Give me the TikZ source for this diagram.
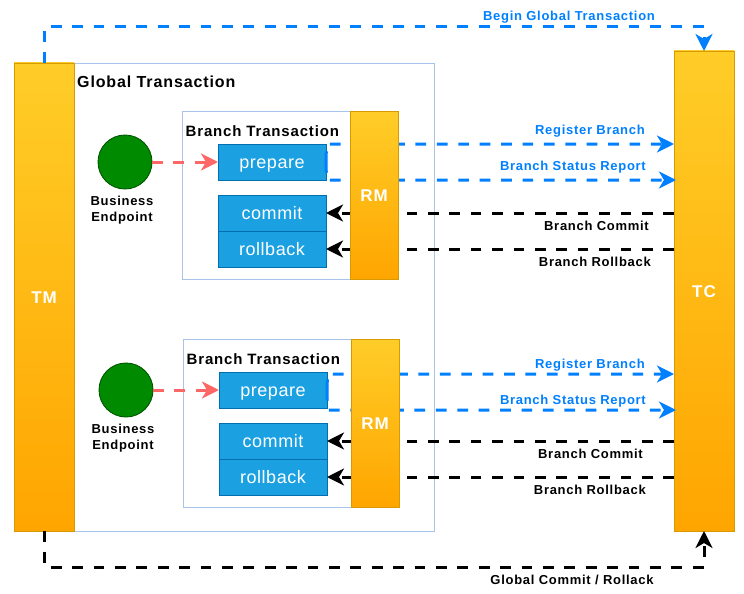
\documentclass[tikz,border=0pt]{standalone}
\usepackage{fontspec}
\setmainfont{Liberation Sans}
\newfontfamily\lsbold{Liberation Sans}[LetterSpace=5.5]
\newfontfamily\lsreg{Liberation Sans}[LetterSpace=3]
\usetikzlibrary{arrows.meta,calc}
\definecolor{ortop}{HTML}{FFCD28}
\definecolor{orbot}{HTML}{FFA500}
\definecolor{orline}{HTML}{D79B00}
\definecolor{frame}{HTML}{A9C4EB}
\definecolor{opfill}{HTML}{1BA1E2}
\definecolor{opline}{HTML}{006EAF}
\definecolor{gfill}{HTML}{008A00}
\definecolor{gline}{HTML}{005700}
\definecolor{blu}{HTML}{007FFF}
\definecolor{redl}{HTML}{FF6666}
\tikzset{
  bar/.style={draw=orline, line width=0.9pt, top color=ortop, bottom color=orbot, inner sep=0pt, outer sep=0pt, text=white, font=\lsbold\bfseries\fontsize{17}{19}\selectfont, text height=12.2pt, text depth=0pt},
  framebox/.style={draw=frame, line width=0.9pt, fill=white, inner sep=0pt, outer sep=0pt},
  opbox/.style={draw=opline, line width=0.9pt, fill=opfill, inner sep=0pt, outer sep=0pt, minimum width=108pt, minimum height=36pt, text=white, font=\lsreg\fontsize{18}{20}\selectfont, text height=12.9pt, text depth=0pt},
  endpt/.style={circle, draw=gline, line width=0.9pt, fill=gfill, minimum size=54pt, inner sep=0pt, outer sep=0pt},
  dline/.style={line width=3pt, dash pattern=on 10.7pt off 10.7pt},
  tip/.style={-{Stealth[length=17pt,width=17pt,inset=5pt]}},
  bluearrow/.style={dline, draw=blu, tip},
  blackarrow/.style={dline, draw=black, tip},
  redarrow/.style={dline, draw=redl, tip},
  lab/.style={font=\lsbold\bfseries\fontsize{13}{15}\selectfont, inner sep=0pt, text height=9.3pt, text depth=0pt},
  bluelab/.style={lab, text=blu},
  eplab/.style={font=\lsbold\bfseries\fontsize{13}{16}\selectfont, inner sep=0pt, align=center},
  title/.style={font=\lsbold\bfseries\fontsize{16}{18}\selectfont, inner sep=0pt, anchor=west, text height=11.5pt, text depth=0pt},
  btitle/.style={font=\lsbold\bfseries\fontsize{15}{17}\selectfont, inner sep=0pt, anchor=west, text height=10.7pt, text depth=0pt},
}
\begin{document}
\begin{tikzpicture}[x=1pt,y=-1pt]
\useasboundingbox (0,0) rectangle (744,594);
% global frame
\node[framebox, minimum width=360pt, minimum height=468pt] (gt) at (254,297) {};
\node[title] (gtl) at (77,81.5) {Global Transaction};
% TM and TC
\node[bar, minimum width=60pt, minimum height=468pt] (tm) at (44,297) {TM};
\node[bar, minimum width=60pt, minimum height=480pt] (tc) at (704,291) {TC};
% top/bottom connectors
\coordinate (tl) at (44,27);
\coordinate (tr) at (704,27);
\coordinate (bl) at (44,567);
\coordinate (br) at (704,567);
\draw[bluearrow] (tm.north) -- (tl) -- (tr) -- (tc.north);
\draw[blackarrow] (tm.south) -- (bl) -- (br) -- (tc.south);
\node[bluelab] (bgt) at (569,16) {Begin Global Transaction};
\node[lab] (gcr) at (572,580) {Global Commit / Rollack};
% branches
\foreach \i/\dx/\dy/\ly/\bo/\cx/\rx in {1/0/0/0/0/649/651, 2/1/228/234/2/643/646}{
  \begin{scope}[shift={(\dx,\dy)}]
    \node[framebox, minimum width=216pt, minimum height=168pt] (bt\i) at (290,195) {};
    \node[btitle] (btl\i) at (185.5,131) {Branch Transaction};
    \node[endpt] (ep\i) at (125,162) {};
    \node[eplab] (epl\i) at (122,210) {Business\\Endpoint};
    \node[opbox] (p\i) at (272,162) {prepare};
    \node[opbox] (c\i) at (272,213) {commit};
    \node[opbox] (r\i) at (272,249) {rollback};
    \draw[redarrow] (ep\i.east) -- (p\i.west);
    \draw[bluearrow] (p\i.east) -- ($(p\i.north east)+(0.5,\bo)$) -- ($(p\i.north east -| tc.west)+(0,\bo)$);
    \draw[bluearrow] (p\i.east) -- ($(p\i.south east)+(0.5,\bo)$) -- ($(p\i.south east -| tc.west)+(2,\bo)$);
    \draw[blackarrow] (tc.west |- c\i.east) -- (c\i.east);
    \draw[blackarrow] (tc.west |- r\i.east) -- (r\i.east);
    \node[bar, minimum width=48pt, minimum height=168pt] (rm\i) at (374,195) {RM};
  \end{scope}
  \node[bluelab, anchor=east] (reg\i) at (645,130+\ly) {Register Branch};
  \node[bluelab, anchor=east] (bsr\i) at (646,166+\ly) {Branch Status Report};
  \node[lab, anchor=east] (bc\i) at (\cx,226+\dy) {Branch Commit};
  \node[lab, anchor=east] (brb\i) at (\rx,262+\dy) {Branch Rollback};
}
\end{tikzpicture}
\end{document}
